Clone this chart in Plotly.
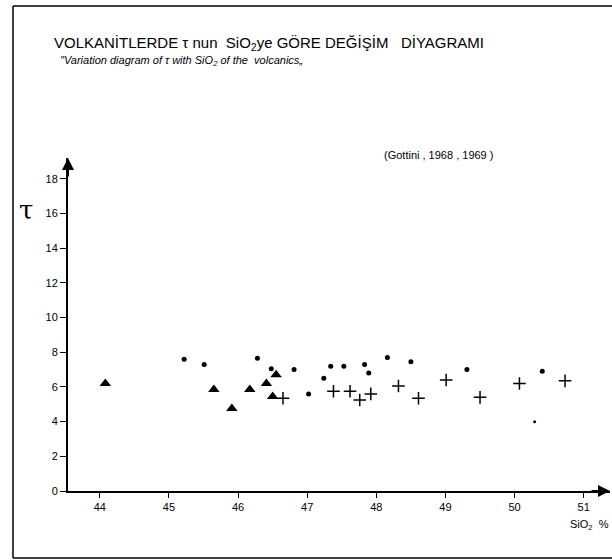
import plotly.graph_objects as go

# data
dots_x = [45.22, 45.51, 46.28, 46.48, 46.81, 47.02, 47.24, 47.34, 47.53, 47.83, 47.89, 48.16, 48.50, 49.31, 50.40]
dots_y = [7.6, 7.3, 7.65, 7.05, 7.0, 5.6, 6.5, 7.2, 7.2, 7.3, 6.8, 7.7, 7.45, 7.0, 6.9]
small_x = [50.29]
small_y = [4.0]
tri_x = [44.08, 45.65, 45.91, 46.17, 46.41, 46.55, 46.50]
tri_y = [6.2, 5.85, 4.75, 5.85, 6.2, 6.7, 5.45]
cross_x = [46.65, 47.38, 47.62, 47.76, 47.92, 48.32, 48.61, 49.01, 49.50, 50.07, 50.73]
cross_y = [5.35, 5.75, 5.75, 5.25, 5.6, 6.05, 5.35, 6.4, 5.4, 6.2, 6.35]
x_ticks = [44, 45, 46, 47, 48, 49, 50, 51]
y_ticks = [0, 2, 4, 6, 8, 10, 12, 14, 16, 18]

FONT = "Liberation Sans, Arial, sans-serif"
PW, PH = 542, 333  # plot area size in px

fig = go.Figure()
fig.add_trace(go.Scatter(x=dots_x, y=dots_y, mode="markers",
                         marker=dict(symbol="circle", size=5, color="black")))
fig.add_trace(go.Scatter(x=small_x, y=small_y, mode="markers",
                         marker=dict(symbol="circle", size=3, color="black")))
fig.add_trace(go.Scatter(x=tri_x, y=tri_y, mode="markers",
                         marker=dict(symbol="triangle-up", size=10, color="black")))
fig.add_trace(go.Scatter(x=cross_x, y=cross_y, mode="markers",
                         marker=dict(symbol="cross-thin", size=9,
                                     line=dict(width=1.5, color="black"))))

fig.update_layout(
    width=612, height=560, showlegend=False,
    plot_bgcolor="white", paper_bgcolor="white",
    margin=dict(l=68, r=2, t=158, b=69),
    font=dict(family=FONT, color="black", size=11),
    xaxis=dict(range=[43.54, 51.38], tickvals=x_ticks, ticktext=[str(v) for v in x_ticks],
               showgrid=False, zeroline=False, showline=True, linecolor="black", linewidth=2,
               ticks="outside", ticklen=5, tickcolor="black", tickfont=dict(size=11)),
    yaxis=dict(range=[0, 19.2], tickvals=y_ticks, ticktext=[str(v) for v in y_ticks],
               showgrid=False, zeroline=False, showline=True, linecolor="black", linewidth=2,
               ticks="outside", ticklen=6, tickcolor="black", tickfont=dict(size=11)),
)

def px_x(p):
    return (p - 68) / PW

def px_y(p):
    return (491 - p) / PH

# frame of the scanned page (top, left, bottom)
for (x0, y0, x1, y1) in [(13, 6, 612, 6), (13, 6, 13, 558), (13, 558, 612, 558)]:
    fig.add_shape(type="line", xref="paper", yref="paper",
                  x0=px_x(x0), y0=px_y(y0), x1=px_x(x1), y1=px_y(y1),
                  line=dict(color="black", width=1.5))

# arrowheads
fig.add_annotation(xref="paper", yref="paper", x=0, y=1, ax=0, ay=20, text="",
                   showarrow=True, arrowhead=2, arrowsize=1.2, arrowwidth=2, arrowcolor="black")
fig.add_annotation(xref="paper", yref="paper", x=1, y=0, ax=-20, ay=0, text="",
                   showarrow=True, arrowhead=2, arrowsize=1.2, arrowwidth=2, arrowcolor="black")

fig.add_annotation(xref="paper", yref="paper", x=px_x(52), y=px_y(44), xanchor="left", yanchor="middle",
                   text="VOLKANİTLERDE τ nun  SiO<sub>2</sub>ye GÖRE DEĞİŞİM   DİYAGRAMI",
                   showarrow=False, font=dict(size=15, family=FONT))
fig.add_annotation(xref="paper", yref="paper", x=px_x(58), y=px_y(61), xanchor="left", yanchor="middle",
                   text="<i>\"Variation diagram of τ with SiO<sub>2</sub> of the  volcanics„</i>",
                   showarrow=False, font=dict(size=11, family=FONT))
fig.add_annotation(xref="paper", yref="paper", x=px_x(382), y=px_y(155), xanchor="left", yanchor="middle",
                   text="(Gottini , 1968 , 1969 )",
                   showarrow=False, font=dict(size=11, family=FONT))
fig.add_annotation(xref="paper", yref="paper", x=px_x(26), y=px_y(210), xanchor="center", yanchor="middle",
                   text="τ", showarrow=False, font=dict(size=26, family="DejaVu Serif, serif"))
fig.add_annotation(xref="paper", yref="paper", x=px_x(568), y=px_y(525), xanchor="left", yanchor="middle",
                   text="SiO<sub>2</sub>  %", showarrow=False, font=dict(size=11, family=FONT))

fig.write_html("out.html")
